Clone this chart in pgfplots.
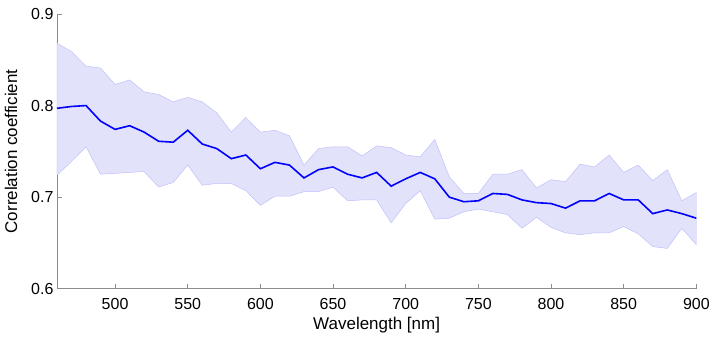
\documentclass[border=0pt]{standalone}
\usepackage{pgfplots}
\pgfplotsset{compat=1.18}
\usepackage{pgfplotstable}
\usepackage{fontspec}
\setmainfont{Liberation Sans}
\definecolor{band}{RGB}{226,226,251}
\definecolor{axgray}{RGB}{140,140,140}
\pgfplotstableread{
x m
460 0.797
470 0.799
480 0.800
490 0.783
500 0.774
510 0.778
520 0.771
530 0.761
540 0.760
550 0.773
560 0.758
570 0.753
580 0.742
590 0.746
600 0.731
610 0.738
620 0.735
630 0.721
640 0.730
650 0.733
660 0.725
670 0.721
680 0.727
690 0.712
700 0.720
710 0.727
720 0.720
730 0.700
740 0.695
750 0.696
760 0.704
770 0.703
780 0.697
790 0.694
800 0.693
810 0.688
820 0.696
830 0.696
840 0.704
850 0.697
860 0.697
870 0.682
880 0.686
890 0.682
900 0.677
}\meantable
% band: upper bound forward, then lower bound backward
\pgfplotstableread{
x y
460 0.868
470 0.859
480 0.843
490 0.841
500 0.823
510 0.828
520 0.815
530 0.812
540 0.804
550 0.809
560 0.804
570 0.792
580 0.771
590 0.787
600 0.771
610 0.773
620 0.767
630 0.735
640 0.753
650 0.755
660 0.755
670 0.745
680 0.756
690 0.754
700 0.746
710 0.744
720 0.763
730 0.722
740 0.704
750 0.704
760 0.725
770 0.725
780 0.730
790 0.710
800 0.719
810 0.717
820 0.736
830 0.733
840 0.746
850 0.727
860 0.735
870 0.718
880 0.730
890 0.696
900 0.705
900 0.648
890 0.666
880 0.644
870 0.646
860 0.660
850 0.668
840 0.661
830 0.661
820 0.659
810 0.661
800 0.667
790 0.678
780 0.666
770 0.681
760 0.684
750 0.687
740 0.684
730 0.677
720 0.676
710 0.707
700 0.693
690 0.672
680 0.697
670 0.697
660 0.696
650 0.711
640 0.706
630 0.706
620 0.701
610 0.701
600 0.691
590 0.707
580 0.715
570 0.715
560 0.713
550 0.735
540 0.716
530 0.711
520 0.728
510 0.727
500 0.726
490 0.725
480 0.755
470 0.739
460 0.724
}\bandtable
\begin{document}
\begin{tikzpicture}
\begin{axis}[
  at={(0,0)}, anchor=south west,
  scale only axis, width=640pt, height=275pt,
  xmin=460, xmax=900, ymin=0.6, ymax=0.9,
  axis x line*=bottom, axis y line*=left,
  axis line style={axgray, line width=0.8pt},
  xtick={500,550,...,900},
  ytick={0.6,0.7,0.8,0.9},
  yticklabel style={/pgf/number format/fixed, /pgf/number format/precision=1, /pgf/number format/fixed zerofill},
  xticklabel style={yshift=-6pt},
  tick style={axgray, line width=0.8pt},
  major tick length=5pt,
  tick align=inside,
  /pgf/number format/assume math mode=true,
  ticklabel style={font=\fontsize{16}{18}\selectfont, text=black},
  label style={font=\fontsize{17}{19}\selectfont, text=black},
  xlabel={Wavelength [nm]},
  ylabel={Correlation coefficient},
  xlabel style={yshift=-1pt},
  ylabel style={yshift=7pt},
]
\addplot[fill=band, draw=band!85!blue, line width=0.5pt] table[x=x, y=y] {\bandtable} -- cycle;
\addplot[blue, line width=1.6pt, mark=none] table[x=x, y=m] {\meantable};
\end{axis}
\useasboundingbox (-57pt,-55pt) rectangle (656pt,289pt);
\end{tikzpicture}
\end{document}
